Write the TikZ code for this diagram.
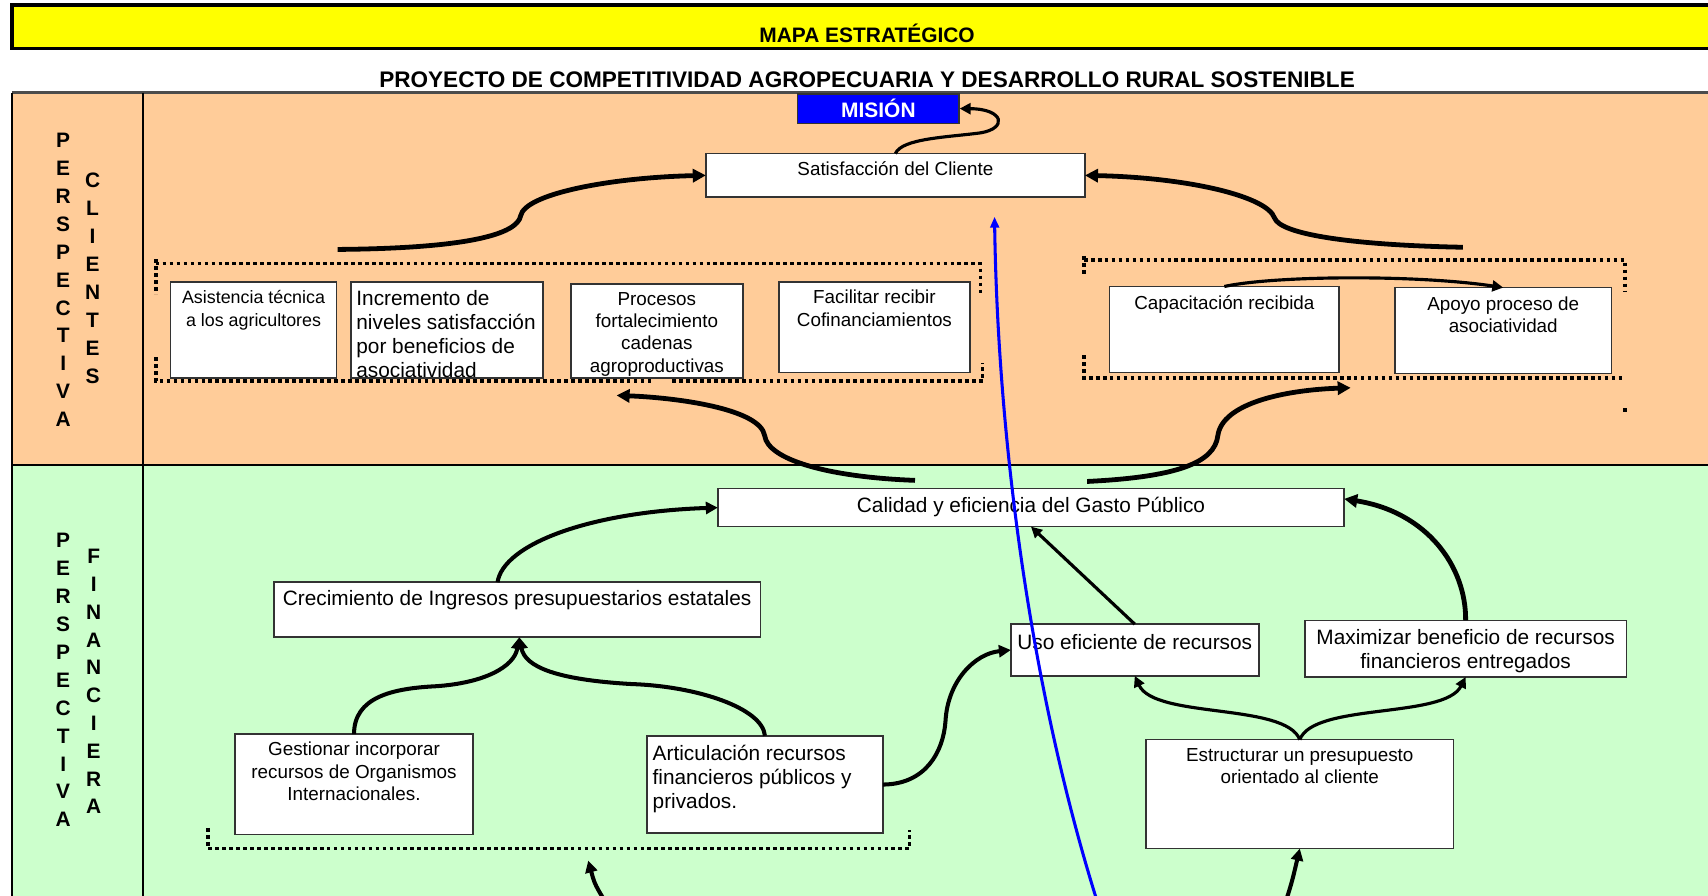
\documentclass[tikz,border=0pt]{standalone}
\usepackage{fontspec}
\setmainfont{Liberation Sans}
\usetikzlibrary{arrows.meta}

% text sizes used in the boxes
\newcommand\fss{\fontsize{8.2pt}{10.5pt}\selectfont}
\newcommand\fsm{\fontsize{8.65pt}{10.3pt}\selectfont}
\newcommand\flg{\fontsize{9.55pt}{11.1pt}\selectfont}
% box contents: width, height, top padding, text (top aligned)
\newcommand\cbox[4]{\parbox[c][#2][t]{#1}{\vspace*{#3}\centering #4\par}}
\newcommand\lbox[4]{\parbox[c][#2][t]{#1}{\vspace*{#3}\raggedright\leftskip=2.6pt #4\par}}

\definecolor{clientbg}{HTML}{FFCC99}
\definecolor{finbg}{HTML}{CCFFCC}
\definecolor{barbg}{HTML}{FFFF00}
\definecolor{misblue}{HTML}{0000FF}

\tikzset{
  box/.style={draw=black!80, line width=0.75pt, fill=white, inner sep=0pt, outer sep=0pt},
  vlet/.style={font=\fontsize{9.6pt}{9.6pt}\selectfont\bfseries, inner sep=0pt},
  dots/.style={line width=1.7pt, dash pattern=on 1.7pt off 1.5pt},
  frame/.style={line width=1pt, draw=black},
  arrA/.style={line width=2.2pt, -{Triangle[length=6pt,width=6pt]}},
  arrB/.style={line width=1.85pt, -{Triangle[length=5.5pt,width=5.5pt]}},
  arrC/.style={line width=1.45pt, -{Triangle[length=5pt,width=5pt]}},
  arrBlue/.style={line width=1.4pt, draw=misblue, -{Triangle[length=5pt,width=4pt]}},
}

\begin{document}
\begin{tikzpicture}[x=0.5pt, y=-0.5pt]
  \fill[white] (0,0) rectangle (1568,822);
  \useasboundingbox (0,0) rectangle (1568,822);

  % heading bar and title
  \draw[line width=1.5pt, fill=barbg] (11,4.5) rectangle (1590,44.5);
  \node[font=\fontsize{9.6pt}{9.6pt}\selectfont\bfseries] (mapa) at (796,31) {MAPA ESTRATÉGICO};
  \node[font=\fontsize{10.35pt}{10.35pt}\selectfont\bfseries] (titulo) at (796,73)
    {PROYECTO DE COMPETITIVIDAD AGROPECUARIA Y DESARROLLO RURAL SOSTENIBLE};

  % perspective bands
  \fill[clientbg] (11,85) rectangle (1590,427);
  \fill[finbg] (11,427) rectangle (1590,840);
  \draw[line width=1pt, draw=black!70] (11,85) -- (1590,85);
  \draw[frame] (11,85) -- (11,840);
  \draw[frame] (131,85) -- (131,840);
  \draw[frame] (11,427) -- (1590,427);

  % vertical perspective labels
  \foreach \l [count=\i from 0] in {P,E,R,S,P,E,C,T,I,V,A}
    \node[vlet] (pc\i) at (58,{128.7+25.65*\i}) {\l};
  \foreach \l [count=\i from 0] in {C,L,I,E,N,T,E,S}
    \node[vlet] (cl\i) at (85,{165.5+25.65*\i}) {\l};
  \foreach \l [count=\i from 0] in {P,E,R,S,P,E,C,T,I,V,A}
    \node[vlet] (pf\i) at (58,{496+25.65*\i}) {\l};
  \foreach \l [count=\i from 0] in {F,I,N,A,N,C,I,E,R,A}
    \node[vlet] (fi\i) at (86,{511+25.5*\i}) {\l};

  % dotted groupings
  \draw[dots] (143,238) -- (143,270);
  \draw[dots] (143,242) -- (900,242) -- (900,271);
  \draw[dots] (143,328) -- (143,350) -- (598,350);
  \draw[dots] (617,350) -- (902,350) -- (902,333);
  \draw[dots] (995,235) -- (995,252);
  \draw[dots] (995,239) -- (1492,239) -- (1492,267);
  \draw[dots] (995,326) -- (995,347) -- (1492,347);
  \draw[dots] (1492,375) -- (1492,379);
  \draw[dots] (191,760) -- (191,779) -- (835,779) -- (835,762);

  % mission and customer objectives
  \node[draw=black!80, line width=0.6pt, fill=misblue, text=white, inner sep=0pt,
        minimum width=74pt, minimum height=13.5pt,
        font=\fontsize{9.6pt}{9.6pt}\selectfont\bfseries] (mision) at (806.4,99.7) {MISIÓN};
  \node[box] (sat) at (822,161) {\cbox{174pt}{20pt}{2.8pt}{\fsm\strut Satisfacción del Cliente}};
  \node[box] (asis) at (232.75,303) {\cbox{76.25pt}{44pt}{2.65pt}{\fss\strut Asistencia técnica\\a los agricultores}};
  \node[box] (incr) at (410.25,303) {\lbox{88.25pt}{44pt}{2.8pt}{\flg\strut Incremento de\\niveles satisfacción\\por beneficios de\\asociatividad}};
  \node[box] (proc) at (603,304) {\cbox{79pt}{43pt}{2.3pt}{\fsm\strut Procesos\\fortalecimiento\\cadenas\\agroproductivas}};
  \node[box] (faci) at (802.75,300.5) {\cbox{87.75pt}{41.5pt}{2.8pt}{\fsm\strut Facilitar recibir\\Cofinanciamientos}};
  \node[box] (capa) at (1124,302.5) {\cbox{105.5pt}{39.5pt}{3.3pt}{\fsm\strut Capacitación recibida}};
  \node[box] (apoy) at (1380,303.5) {\cbox{99.5pt}{39.5pt}{3.3pt}{\fsm\strut Apoyo proceso de\\asociatividad}};

  % financial objectives
  \node[box] (cal) at (946.5,466) {\cbox{287.5pt}{17.5pt}{3.05pt}{\flg\strut Calidad y eficiencia del Gasto Público}};
  \node[box] (crec) at (474.75,559.75) {\cbox{223.25pt}{25.25pt}{3.05pt}{\flg\strut Crecimiento de Ingresos presupuestarios estatales}};
  \node[box] (uso) at (1041.75,596.75) {\cbox{113.75pt}{23.75pt}{3.8pt}{\flg\strut Uso eficiente de recursos}};
  \node[box] (maxi) at (1345.5,595.5) {\cbox{147.5pt}{26pt}{3.3pt}{\flg\strut Maximizar beneficio de recursos\\financieros entregados}};
  \node[box] (gest) at (325,720) {\cbox{109.5pt}{46pt}{2.8pt}{\fsm\strut Gestionar incorporar\\recursos de Organismos\\Internacionales.}};
  \node[box] (arti) at (702.25,720.25) {\lbox{108.25pt}{44.75pt}{3.55pt}{\flg\strut Articulación recursos\\financieros públicos y\\privados.}};
  \node[box] (estr) at (1193.25,729) {\cbox{141.25pt}{50pt}{2.8pt}{\fsm\strut Estructurar un presupuesto\\orientado al cliente}};

  % free ends of connectors
  \coordinate (l1) at (310,229);
  \coordinate (r1) at (1343,227);
  \coordinate (c1) at (840,441);
  \coordinate (pl) at (566,363);
  \coordinate (c2) at (998,442);
  \coordinate (pr) at (1240,356);
  \coordinate (b0) at (1008,830);
  \coordinate (bt) at (913,199);
  \coordinate (e0) at (1178,835);
  \coordinate (d0) at (560,835);
  \coordinate (d1) at (540,790);

  % customer perspective connectors
  \draw[arrA] (l1) .. controls (430,228) and (475,215) .. (478,198)
                   .. controls (482,178) and (560,163) .. (sat.west);
  \draw[arrA] (r1) .. controls (1240,225) and (1175,215) .. (1170,200)
                   .. controls (1163,180) and (1090,163) .. (sat.east);
  \draw[arrC] (sat.north) .. controls (828,127) and (870,126) .. (900,122)
                          .. controls (925,118) and (922,100) .. (mision.east);
  \draw[arrA] (c1) .. controls (760,438) and (705,422) .. (702,400)
                   .. controls (698,375) and (620,365) .. (pl);
  \draw[arrA] (c2) .. controls (1080,438) and (1115,425) .. (1118,400)
                   .. controls (1122,370) and (1180,358) .. (pr);
  \draw[arrC] (capa.north) .. controls (1170,253) and (1300,252) .. (apoy.north);

  % financial perspective connectors
  \draw[arrB] ([xshift=-9pt]crec.north) .. controls (462,500) and (540,470) .. (cal.west);
  \draw[arrB] (gest.north) .. controls (325,640) and (360,632) .. (400,630)
                           .. controls (445,627) and (472,612) .. ([xshift=1pt]crec.south);
  \draw[arrB] (arti.north) .. controls (700,650) and (640,630) .. (580,628)
                           .. controls (510,624) and (482,612) .. ([xshift=1pt]crec.south);
  \draw[arrB] (arti.east) .. controls (850,720) and (866,690) .. (868,662)
                          .. controls (870,625) and (895,600) .. (uso.west);
  \draw[arrC] (uso.north) -- (cal.south);
  \draw[arrA] (maxi.north) .. controls (1346,520) and (1310,470) .. ([yshift=4pt]cal.east);
  \draw[arrC] (estr.north) .. controls (1180,645) and (1060,660) .. (uso.south);
  \draw[arrC] (estr.north) .. controls (1206,645) and (1326,660) .. (maxi.south);
  \draw[arrB] (e0) .. controls (1186,810) .. (estr.south);
  \draw[arrB] (d0) .. controls (546,812) .. (d1);

  % cross-perspective link
  \draw[arrBlue] (b0) .. controls (945,630) and (916,400) .. (bt);
\end{tikzpicture}
\end{document}
